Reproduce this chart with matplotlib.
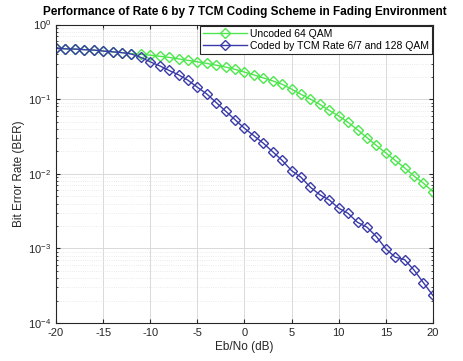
import numpy as np
import matplotlib
matplotlib.use('Agg')
import matplotlib.pyplot as plt
from matplotlib.ticker import LogLocator, NullFormatter

plt.rcParams['font.family'] = ['Liberation Sans', 'DejaVu Sans']
plt.rcParams['mathtext.fontset'] = 'custom'
plt.rcParams['mathtext.rm'] = 'Liberation Sans'
plt.rcParams['axes.unicode_minus'] = False

# Eb/No in dB
ebno = np.arange(-20, 21, 1)

# log10(BER)
log_uncoded = [-0.32, -0.325, -0.33, -0.335, -0.345, -0.355, -0.365, -0.375, -0.39, -0.40,
               -0.41, -0.425, -0.44, -0.46, -0.48, -0.50, -0.52, -0.545, -0.57, -0.60,
               -0.637, -0.675, -0.715, -0.755, -0.80, -0.865, -0.935, -1.00, -1.07, -1.15,
               -1.225, -1.31, -1.41, -1.515, -1.62, -1.72, -1.82, -1.92, -2.03, -2.126,
               -2.24]
log_coded = [-0.319, -0.326, -0.328, -0.337, -0.341, -0.355, -0.366, -0.377, -0.395, -0.44,
             -0.50, -0.553, -0.615, -0.673, -0.746, -0.84, -0.93, -1.045, -1.16, -1.275,
             -1.39, -1.49, -1.59, -1.705, -1.82, -1.957, -2.046, -2.18, -2.28, -2.35,
             -2.46, -2.53, -2.65, -2.715, -2.84, -3.005, -3.117, -3.15, -3.29, -3.46,
             -3.63]
ber_uncoded = 10 ** np.array(log_uncoded)
ber_coded = 10 ** np.array(log_coded)

fig = plt.figure(figsize=(4.63, 3.61), dpi=100)
ax = fig.add_axes([0.121, 0.105, 0.814, 0.827])

ax.semilogy(ebno, ber_uncoded, '-D', color='#4de64d', mfc='none', ms=5, mew=1.0, lw=1.0,
            label='Uncoded 64 QAM')
ax.semilogy(ebno, ber_coded, '-D', color='#3a3aa8', mfc='none', ms=5, mew=1.0, lw=1.0,
            label='Coded by TCM Rate 6/7 and 128 QAM')

ax.set_xlim(-20, 20)
ax.set_ylim(1e-4, 1)
ax.set_xticks(np.arange(-20, 21, 5))
ax.yaxis.set_major_locator(LogLocator(base=10, numticks=10))
ax.yaxis.set_minor_locator(LogLocator(base=10, subs=np.arange(2, 10), numticks=10))
ax.yaxis.set_minor_formatter(NullFormatter())

ax.grid(True, which='major', color='#d9d9d9', lw=0.7)
ax.grid(True, which='minor', axis='y', color='#e4e4e4', lw=0.6, ls=':')
ax.set_axisbelow(True)

ax.tick_params(which='both', direction='in', top=True, right=True, labelsize=8,
               colors='#262626', length=3)
ax.tick_params(which='minor', length=1.5)
for s in ax.spines.values():
    s.set_color('#262626')
    s.set_linewidth(0.8)

ax.set_xlabel('Eb/No (dB)', fontsize=8.5, color='#262626', labelpad=2)
ax.set_ylabel('Bit Error Rate (BER)', fontsize=8.5, color='#262626', labelpad=2)
ax.set_title('Performance of Rate 6 by 7 TCM Coding Scheme in Fading Environment',
             fontsize=8.5, fontweight='bold', pad=7)

leg = ax.legend(loc='upper right', fontsize=7.5, fancybox=False, framealpha=1,
                edgecolor='#262626', borderaxespad=0.1, handlelength=4.2,
                borderpad=0.3, labelspacing=0.2, handletextpad=0.3)
leg.get_frame().set_linewidth(0.8)

fig.savefig('out.png', dpi=100, facecolor='white')
